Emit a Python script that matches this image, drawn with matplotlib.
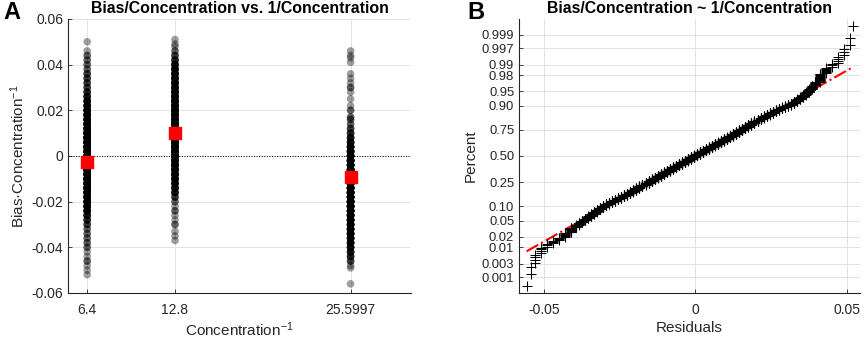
import numpy as np
import matplotlib
matplotlib.use('Agg')
import matplotlib.pyplot as plt
from statistics import NormalDist

plt.rcParams['font.family'] = ['Liberation Sans', 'DejaVu Sans']
plt.rcParams['axes.unicode_minus'] = False
plt.rcParams['mathtext.default'] = 'regular'

# panel A: bias/concentration at each 1/concentration level
inv_conc = [6.4, 12.8, 25.5997]
inv_conc_labels = ['6.4', '12.8', '25.5997']
group_means = [-0.0027, 0.0099, -0.0094]

g1_vals = [0.050, 0.046, 0.044, 0.042, 0.040, 0.038, 0.036, 0.034, 0.032, 0.030,
           0.028, 0.026, 0.024, 0.022, 0.020, 0.018, 0.016, 0.014, 0.012, 0.010,
           0.008, 0.006, 0.004, 0.002, 0.000, -0.002, -0.004, -0.006, -0.008, -0.010,
           -0.012, -0.014, -0.016, -0.018, -0.020, -0.022, -0.024, -0.026, -0.028, -0.030,
           -0.032, -0.034, -0.036, -0.038, -0.040, -0.042, -0.044, -0.046, -0.048, -0.050,
           -0.052]
g1_counts = [1, 1, 2, 2, 2, 2, 3, 3, 3, 3,
             4, 5, 6, 7, 8, 9, 10, 11, 12, 13,
             13, 14, 15, 15, 16, 16, 16, 15, 15, 14,
             13, 12, 11, 10, 9, 8, 7, 5, 4, 3,
             2, 2, 2, 2, 2, 1, 1, 2, 1, 1,
             1]

g2_vals = [0.051, 0.049, 0.048, 0.046, 0.044, 0.042, 0.040, 0.038, 0.036, 0.034, 0.032,
           0.030, 0.028, 0.026, 0.024, 0.022, 0.020, 0.018, 0.016, 0.014, 0.012,
           0.010, 0.008, 0.006, 0.004, 0.002, 0.000, -0.002, -0.004, -0.006, -0.008,
           -0.010, -0.012, -0.014, -0.016, -0.018, -0.020, -0.022, -0.024, -0.026, -0.028,
           -0.030, -0.033, -0.035, -0.037]
g2_counts = [1, 1, 1, 2, 3, 4, 6, 7, 8, 9, 9,
             10, 11, 12, 13, 13, 14, 15, 16, 16, 17,
             17, 17, 16, 16, 15, 14, 13, 12, 11, 9,
             8, 7, 6, 5, 3, 2, 1, 2, 1, 1,
             2, 1, 1, 1]

g3_vals = [0.046, 0.044, 0.043, 0.041, 0.036, 0.034, 0.032, 0.030, 0.028, 0.025,
           0.022, 0.020, 0.017, 0.016, 0.014, 0.012, 0.010, 0.008, 0.006, 0.004,
           0.002, 0.000, -0.002, -0.004, -0.006, -0.008, -0.010, -0.012, -0.014, -0.016,
           -0.018, -0.020, -0.022, -0.024, -0.026, -0.028, -0.030, -0.032, -0.034, -0.036,
           -0.038, -0.040, -0.042, -0.044, -0.046, -0.048, -0.049, -0.056]
g3_counts = [1, 1, 1, 1, 1, 1, 1, 2, 1, 1,
             1, 2, 2, 2, 2, 3, 4, 5, 6, 8,
             10, 12, 13, 14, 15, 16, 16, 16, 16, 16,
             15, 15, 14, 13, 12, 11, 10, 9, 9, 8,
             7, 6, 5, 4, 3, 1, 1, 1]

# panel B: residuals of the fit (value, number of observations)
resid_vals = [-0.0558, -0.0545, -0.053, -0.051, -0.049, -0.047, -0.045, -0.043, -0.041,
              -0.0395, -0.0385, -0.0375, -0.0365, -0.0355, -0.0345, -0.0335, -0.0325,
              -0.0315, -0.0305, -0.0295, -0.0285, -0.0275, -0.0265, -0.0255, -0.0245,
              -0.0235, -0.0225, -0.0215, -0.0205, -0.0195, -0.0185, -0.0175, -0.0165,
              -0.0155, -0.0145, -0.0135, -0.0125, -0.0115, -0.0105, -0.0095, -0.0085,
              -0.0075, -0.0065, -0.0055, -0.0045, -0.0035, -0.0025, -0.0015, -0.0005,
              0.0005, 0.0015, 0.0025, 0.0035, 0.0045, 0.0055, 0.0065, 0.0075,
              0.0085, 0.0095, 0.0105, 0.0115, 0.0125, 0.0135, 0.0145, 0.0155,
              0.0165, 0.0175, 0.0185, 0.0195, 0.0205, 0.0215, 0.0225, 0.0235,
              0.0245, 0.0255, 0.0265, 0.0275, 0.0285, 0.0295, 0.0305, 0.0315,
              0.0325, 0.0335, 0.0345, 0.0355, 0.0365, 0.0375, 0.0385, 0.0395,
              0.041, 0.043, 0.045, 0.047, 0.049, 0.0511, 0.0522]
resid_counts = [1, 2, 4, 4, 3, 3, 4, 7, 9,
                6, 6, 6, 6, 7, 8, 9, 9,
                9, 10, 8, 8, 8, 9, 9, 10,
                10, 10, 13, 13, 14, 15, 14, 15,
                16, 16, 16, 17, 17, 18, 17, 18,
                18, 18, 18, 18, 18, 19, 19, 19,
                18, 18, 18, 18, 18, 17, 17, 17,
                17, 17, 17, 16, 17, 17, 17, 16,
                15, 15, 14, 14, 13, 13, 10, 10,
                10, 9, 9, 8, 6, 6, 6, 6,
                9, 9, 8, 8, 8, 9, 8, 8,
                13, 6, 3, 4, 3, 2, 1]

prob_ticks = [0.001, 0.003, 0.01, 0.02, 0.05, 0.10, 0.25, 0.50, 0.75, 0.90,
              0.95, 0.98, 0.99, 0.997, 0.999]
prob_labels = ['0.001', '0.003', '0.01', '0.02', '0.05', '0.10', '0.25', '0.50', '0.75',
               '0.90', '0.95', '0.98', '0.99', '0.997', '0.999']

txt = '#262626'
grid_c = '#e3e3e3'

fig = plt.figure(figsize=(8.65, 3.39), dpi=100)
ax1 = fig.add_axes([0.0786, 0.1357, 0.3965, 0.8083])
ax2 = fig.add_axes([0.6, 0.1357, 0.394, 0.8083])

for ax in (ax1, ax2):
    ax.spines['top'].set_visible(False)
    ax.spines['right'].set_visible(False)
    for s in ('left', 'bottom'):
        ax.spines[s].set_color(txt)
        ax.spines[s].set_linewidth(0.8)
    ax.tick_params(direction='in', length=3, width=0.6, colors=txt, labelsize=10)
    ax.tick_params(axis='x', pad=7)
    ax.grid(True, color=grid_c, linewidth=0.7)
    ax.set_axisbelow(True)

# --- panel A
for x, vals, cnts in zip(inv_conc, [g1_vals, g2_vals, g3_vals],
                         [g1_counts, g2_counts, g3_counts]):
    y = np.repeat(vals, cnts)
    ax1.scatter(np.full(len(y), x), y, s=30, color='k', alpha=0.38,
                edgecolors='none', zorder=2)
ax1.axhline(0, color='k', linewidth=0.7, linestyle=':', zorder=1)
ax1.plot(inv_conc, group_means, 's', color='red', markersize=9, linestyle='none', zorder=3)
ax1.set_xlim(5.0, 30.0)
ax1.set_ylim(-0.06, 0.06)
ax1.set_xticks(inv_conc)
ax1.set_xticklabels(inv_conc_labels)
ax1.set_yticks([-0.06, -0.04, -0.02, 0, 0.02, 0.04, 0.06])
ax1.set_yticklabels(['-0.06', '-0.04', '-0.02', '0', '0.02', '0.04', '0.06'])
ax1.set_xlabel('Concentration$^{-1}$', fontsize=11, color=txt, labelpad=3)
ax1.set_ylabel('Bias·Concentration$^{-1}$', fontsize=11, color=txt, labelpad=3)
ax1.set_title('Bias/Concentration vs. 1/Concentration', fontsize=11.4, fontweight='bold',
              color='k', pad=4)

# --- panel B: normal probability plot
nd = NormalDist()
r = np.sort(np.repeat(resid_vals, resid_counts))
n = len(r)
z = np.array([nd.inv_cdf((i - 0.5) / n) for i in range(1, n + 1)])
q1, q3 = np.percentile(r, [25, 75])
z1, z3 = nd.inv_cdf(0.25), nd.inv_cdf(0.75)
slope = (z3 - z1) / (q3 - q1)
xl = np.array([r.min(), r.max()])
ax2.plot(xl, z1 + slope * (xl - q1), color='red', linestyle='-.', linewidth=1.5, zorder=2)
ax2.plot(r, z, '+', color='k', markersize=6.5, markeredgewidth=0.75, zorder=3)
ax2.set_xlim(-0.0583, 0.0543)
zlim = 3.49
ax2.set_ylim(-zlim, zlim)
ax2.set_yticks([nd.inv_cdf(p) for p in prob_ticks])
ax2.set_yticklabels(prob_labels)
ax2.tick_params(axis='y', labelsize=9.4)
ax2.set_xticks([-0.05, 0, 0.05])
ax2.set_xticklabels(['-0.05', '0', '0.05'])
ax2.set_xlabel('Residuals', fontsize=11, color=txt, labelpad=3)
ax2.set_ylabel('Percent', fontsize=11, color=txt, labelpad=3)
ax2.set_title('Bias/Concentration ~ 1/Concentration', fontsize=11.4, fontweight='bold',
              color='k', pad=4)

fig.text(0.004, 0.962, 'A', fontsize=17, fontweight='bold', va='center', ha='left')
fig.text(0.540, 0.962, 'B', fontsize=17, fontweight='bold', va='center', ha='left')

fig.savefig('out.png', dpi=100)
